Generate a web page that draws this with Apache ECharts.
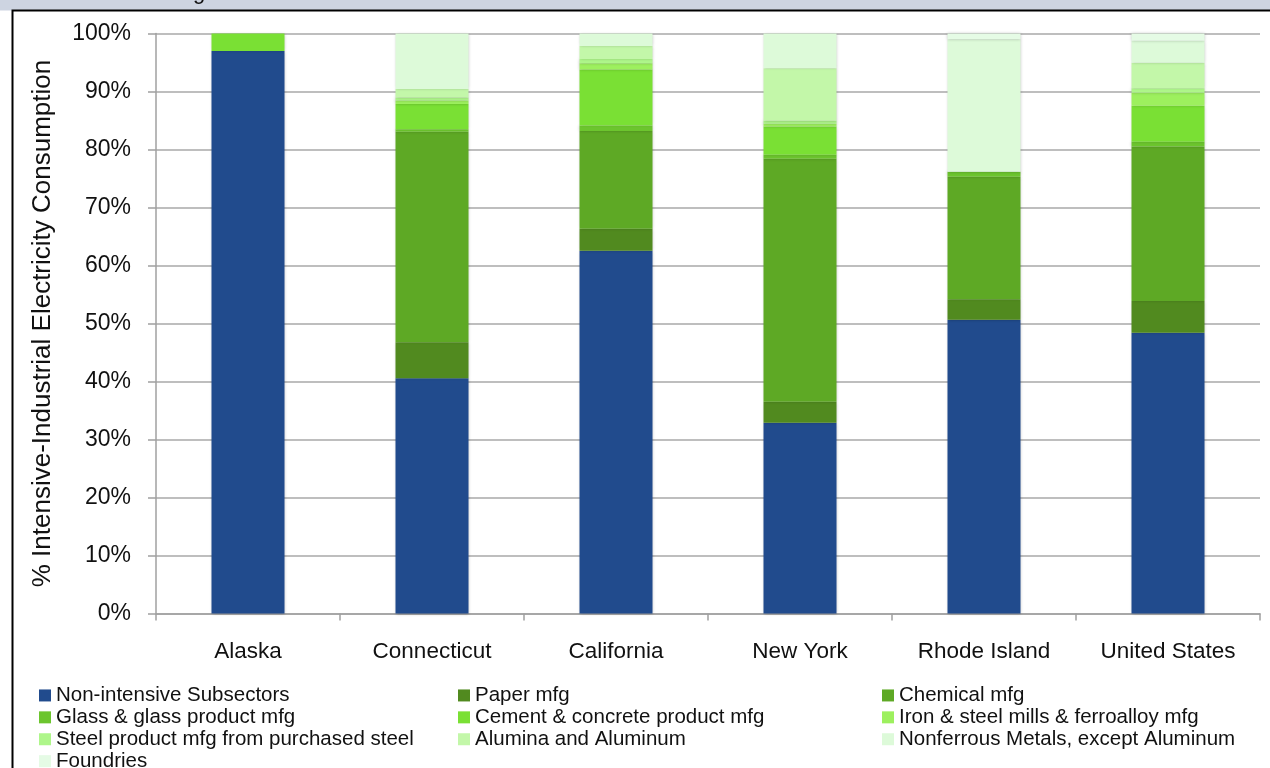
<!DOCTYPE html>
<html><head><meta charset="utf-8">
<script src="https://cdn.jsdelivr.net/npm/echarts@6/dist/echarts.min.js"></script>
<style>html,body{margin:0;padding:0;background:#fff}#c{width:1270px;height:768px}</style>
</head><body><div id="c"></div>
<script>
const categories = ['Alaska','Connecticut','California','New York','Rhode Island','United States'];
const yTicks = [0,10,20,30,40,50,60,70,80,90,100];
const seriesNames = ['Non-intensive Subsectors','Paper mfg','Chemical mfg','Glass & glass product mfg','Cement & concrete product mfg','Iron & steel mills & ferroalloy mfg','Steel product mfg from purchased steel','Alumina and Aluminum','Nonferrous Metals, except Aluminum','Foundries'];
const nonIntensive = [97.0, 40.55, 62.55, 32.9, 50.65, 48.4];
const paper        = [0,    6.2,   3.8,   3.6,  3.55,  5.5];
const chemical     = [0,    36.3,  16.85, 41.9, 21.1,  26.6];
const glass        = [0,    0.45,  0.95,  0.7,  0.85,  0.85];
const cement       = [3.0,  4.35,  9.65,  4.85, 0,     6.2];
const ironSteel    = [0,    0.6,   1.05,  0.5,  0,     2.25];
const steelProduct = [0,    0.5,   0.75,  0.5,  0,     0.75];
const alumina      = [0,    1.5,   2.25,  9.05, 0,     4.4];
const nonferrous   = [0,    9.55,  2.15,  6.0,  22.85, 3.8];
const foundries    = [0,    0,     0,     0,    1.0,   1.25];
const values = [nonIntensive, paper, chemical, glass, cement, ironSteel, steelProduct, alumina, nonferrous, foundries];
const colors = ['#214B8D','#518A1F','#5EA925','#6CC52E','#7AE034','#9DF05E','#AEF68A','#C3F7A9','#DDFAD9','#E5FBE5'];

const chart = echarts.init(document.getElementById('c'), null, {renderer:'canvas'});
const font = '"Liberation Sans", Arial, Helvetica, sans-serif';
const legendText = {fontSize:20.5, color:'#111', fontFamily:font, lineHeight:21.9};
function mkLegend(left, idx){
  return {orient:'vertical', left:left, top:684.5, height:140, padding:0, itemGap:0, itemWidth:12, itemHeight:12,
    icon:'rect', itemStyle:{borderWidth:0}, textStyle:legendText, selectedMode:false,
    data: idx.map(i=>seriesNames[i])};
}
chart.setOption({
  animation:false,
  backgroundColor:'#fff',
  textStyle:{fontFamily:font},
  graphic:[
    {type:'rect', shape:{x:0,y:0,width:1270,height:10.5}, style:{fill:'#CDD4E1'}, z:0},
    {type:'text', x:193, y:4, style:{text:'g', font:'22px '+font, fill:'#111', verticalAlign:'bottom'}, z:1},
    {type:'polyline', shape:{points:[[12.5,768],[12.5,10.5],[1270,10.5]]}, style:{stroke:'#000', lineWidth:2, fill:null}, z:2}
  ],
  legend:[mkLegend(39,[0,3,6,9]), mkLegend(458,[1,4,7]), mkLegend(882,[2,5,8])],
  grid:{left:156, right:10, top:33.5, bottom:154.5, containLabel:false},
  xAxis:{type:'category', data:categories,
    axisLine:{lineStyle:{color:'#A0A0A0', width:1.5}},
    axisTick:{show:true, length:7, lineStyle:{color:'#A0A0A0', width:1.5}},
    axisLabel:{fontSize:22.5, color:'#111', margin:27, fontFamily:font}},
  yAxis:{type:'value', min:0, max:100, interval:10,
    name:'% Intensive-Industrial Electricity Consumption', nameLocation:'middle', nameGap:100,
    nameTextStyle:{fontSize:26, color:'#111', fontFamily:font},
    axisLine:{show:true, lineStyle:{color:'#A0A0A0', width:1.5}},
    axisTick:{show:true, length:8, lineStyle:{color:'#A0A0A0', width:1.5}},
    splitLine:{lineStyle:{color:'#A8A8A8', width:1.5}},
    axisLabel:{fontSize:23, color:'#111', margin:25, fontFamily:font, padding:[5,0,0,0],
      formatter:v=> yTicks.includes(v) ? v+'%' : ''}},
  series: seriesNames.map((n,i)=>({
    name:n, type:'bar', stack:'total', barWidth:73, data:values[i],
    itemStyle:{color:colors[i], shadowColor:'rgba(0,0,0,0.25)', shadowBlur:3},
    emphasis:{disabled:true}
  }))
});
</script></body></html>
